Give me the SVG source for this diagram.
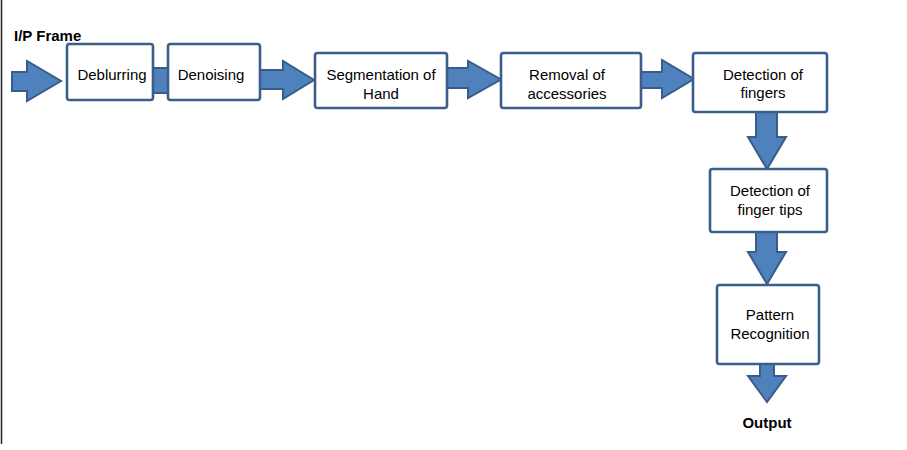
<svg xmlns="http://www.w3.org/2000/svg" width="907" height="450" viewBox="0 0 907 450">
<style>
.box{fill:#fff;stroke:#3B5F8A;stroke-width:2.6}
.arr{fill:#4F81BD;stroke:#385D8A;stroke-width:2;stroke-linejoin:miter}
.t{font-family:"Liberation Sans",Arial,sans-serif;font-size:15px;fill:#000;text-anchor:middle}
.b{font-family:"Liberation Sans",Arial,sans-serif;font-size:15px;font-weight:bold;fill:#000}
</style>
<rect x="0" y="0" width="907" height="450" fill="#fff"/>
<line x1="1.5" y1="0" x2="1.5" y2="444" stroke="#222" stroke-width="1.5"/>
<text class="b" x="14" y="40.5">I/P Frame</text>
<g id="connectors">
<polygon class="arr" points="12,72 27,72 27,61 61,81 27,101 27,91 12,91"/>
<rect class="arr" x="150" y="68" width="21" height="25"/>
<polygon class="arr" points="260,70 283,70 283,61 314,80 283,99 283,89 260,89"/>
<polygon class="arr" points="447,68 468,68 468,61 501,79.5 468,98 468,88 447,88"/>
<polygon class="arr" points="641,72 662,72 662,60 694,79 662,98 662,88 641,88"/>
<polygon class="arr" points="756,112 777,112 777,137 786,137 767,169 748,137 756,137"/>
<polygon class="arr" points="756,232 777,232 777,252 786,252 767,284 748,252 756,252"/>
<polygon class="arr" points="760,364 774,364 774,376 786,376 767,402 748,376 760,376"/>
</g>
<g id="deblurring">
<rect class="box" x="67" y="44" width="86" height="56" rx="2.5"/>
<text class="t" x="112" y="80">Deblurring</text>
</g>
<g id="denoising">
<rect class="box" x="168" y="44" width="92" height="56" rx="2.5"/>
<text class="t" x="211" y="80">Denoising</text>
</g>
<g id="segmentation">
<rect class="box" x="315" y="53" width="132" height="55" rx="2.5"/>
<text class="t" x="381" y="79.5">Segmentation of</text>
<text class="t" x="381" y="98.5">Hand</text>
</g>
<g id="removal">
<rect class="box" x="501" y="53" width="140" height="55" rx="2.5"/>
<text class="t" x="567" y="79.5">Removal of</text>
<text class="t" x="567" y="98.5">accessories</text>
</g>
<g id="det-fingers">
<rect class="box" x="693" y="53" width="134" height="59" rx="2.5"/>
<text class="t" x="763" y="79.5">Detection of</text>
<text class="t" x="763" y="98">fingers</text>
</g>
<g id="det-tips">
<rect class="box" x="710" y="169" width="117" height="63" rx="2.5"/>
<text class="t" x="770" y="196">Detection of</text>
<text class="t" x="770" y="214.5">finger tips</text>
</g>
<g id="pattern">
<rect class="box" x="717" y="285" width="102" height="79" rx="2.5"/>
<text class="t" x="770" y="320">Pattern</text>
<text class="t" x="770" y="338.5">Recognition</text>
</g>
<text class="b" x="767" y="427.5" text-anchor="middle">Output</text>
</svg>
